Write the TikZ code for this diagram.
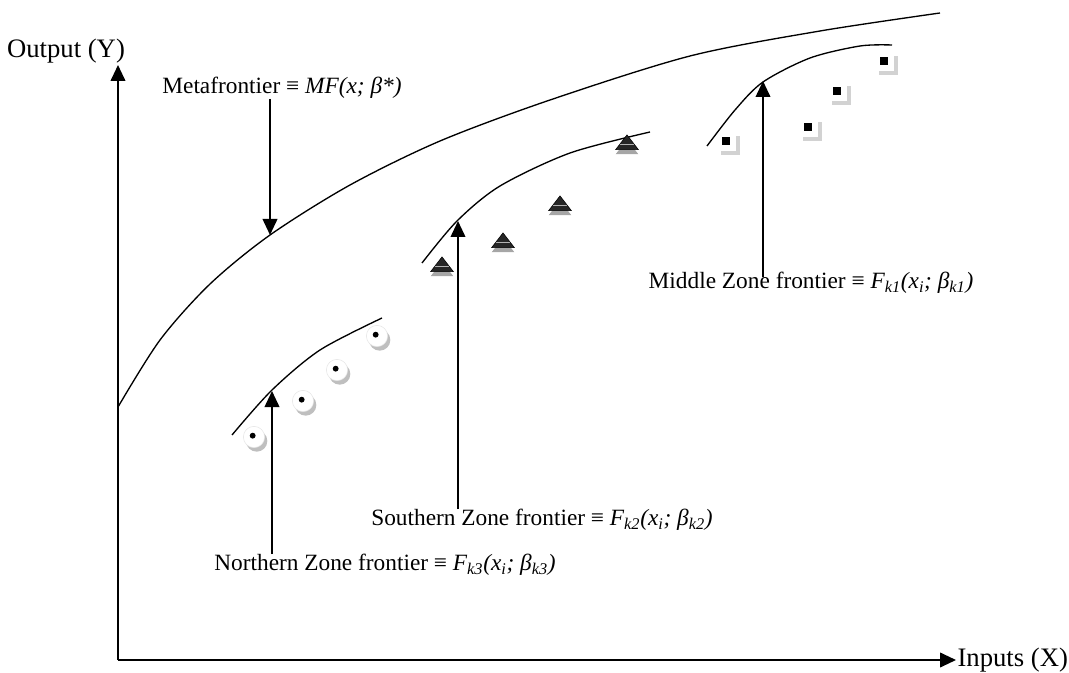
\documentclass[tikz,border=0pt]{standalone}
\usepackage{fontspec}
\setmainfont{Liberation Serif}
\usetikzlibrary{shapes,arrows.meta,positioning,shadows}
\tikzstyle{axis} = [line width=1.4pt,-{Triangle[length=12pt,width=11pt]}]
\tikzstyle{arrow} = [line width=1.3pt,-{Triangle[length=12pt,width=11pt]}]
\tikzstyle{frontier} = [line width=1pt]
\tikzstyle{lbl} = [inner sep=0pt, font=\fontsize{17.5}{20}\selectfont]
\tikzstyle{axlbl} = [inner sep=0pt, font=\fontsize{20}{23}\selectfont]
\tikzstyle{ball} = [circle, minimum size=16pt, inner sep=0pt, fill=white, draw=gray!20, drop shadow={shadow xshift=2pt, shadow yshift=-3pt, fill=gray!50, opacity=1}, path picture={\fill[black] ([shift={(-1pt,1pt)}]path picture bounding box.center) circle (2.2pt);}]
\tikzstyle{tri} = [isosceles triangle, isosceles triangle stretches, shape border rotate=90, minimum height=11pt, minimum width=17pt, inner sep=0pt, fill=black!85, draw=black, drop shadow={shadow xshift=0pt, shadow yshift=-3.5pt, fill=gray!70, opacity=1}, path picture={\draw[gray!60, line width=1pt] ([shift={(-6pt,-1.5pt)}]path picture bounding box.center) -- ++(12pt,0);}]
\tikzstyle{sq} = [rectangle, minimum size=14pt, inner sep=0pt, fill=white, drop shadow={shadow xshift=2.5pt, shadow yshift=-2.5pt, fill=gray!35, opacity=1}, path picture={\fill[black] ([shift={(-3.5pt,3.5pt)}]path picture bounding box.center) rectangle ++(5.5pt,-5.5pt);}]

\begin{document}
\begin{tikzpicture}[x=0.75pt,y=-0.75pt]
\useasboundingbox (0,0) rectangle (1069,673);

% axes
\coordinate (O) at (118,660);
\coordinate (yEnd) at (118,65);
\coordinate (xEnd) at (956,660);
\draw[axis] (O) -- (yEnd);
\draw[axis] (O) -- (xEnd);
\node (yLbl) [axlbl] at (66,51) {Output (Y)};
\node (xLbl) [axlbl, right=1pt of xEnd] {Inputs (X)};

% frontiers
\draw[frontier] plot[smooth] coordinates {(118,407) (160,340) (210,284) (270,235) (350,185) (440,141) (550,100) (690,56) (820,31) (940,13)};
\draw[frontier] plot[smooth] coordinates {(232,435) (272,390) (320,350) (382,318)};
\draw[frontier] plot[smooth] coordinates {(422,263) (457,221) (500,186) (570,153) (650,132)};
\draw[frontier] plot[smooth] coordinates {(707,146) (735,110) (763,82) (810,58) (860,46) (892,45)};

% observations
\node (n1) [ball] at (254,437) {};
\node (n2) [ball] at (303,401) {};
\node (n3) [ball] at (337,370) {};
\node (n4) [ball] at (377,336) {};
\node (s1) [tri] at (442,266) {};
\node (s2) [tri] at (503,242) {};
\node (s3) [tri] at (560,205) {};
\node (s4) [tri] at (627,144) {};
\node (m1) [sq] at (727,142) {};
\node (m2) [sq] at (809,128) {};
\node (m3) [sq] at (838,92) {};
\node (m4) [sq] at (885,62) {};

% labels
\node (metaLbl) [lbl] at (282,88) {Metafrontier ≡ \textit{MF(x; β*)}};
\node (northLbl) [lbl] at (385,565) {Northern Zone frontier ≡ \textit{F\textsubscript{k3}(x\textsubscript{i}; β\textsubscript{k3})}};
\node (southLbl) [lbl] at (542,520) {Southern Zone frontier ≡ \textit{F\textsubscript{k2}(x\textsubscript{i}; β\textsubscript{k2})}};
\node (middleLbl) [lbl] at (811,283) {Middle Zone frontier ≡ \textit{F\textsubscript{k1}(x\textsubscript{i}; β\textsubscript{k1})}};

\coordinate (metaTip) at (270,235);
\coordinate (northTip) at (272,391);
\coordinate (southTip) at (458,221);
\coordinate (middleTip) at (763,81);
\draw[arrow] (metaLbl.south -| metaTip) -- (metaTip);
\draw[arrow] (northLbl.north -| northTip) -- (northTip);
\draw[arrow] (southLbl.north -| southTip) -- (southTip);
\draw[arrow] ([yshift=-4pt]middleLbl.north -| middleTip) -- (middleTip);
\end{tikzpicture}
\end{document}
